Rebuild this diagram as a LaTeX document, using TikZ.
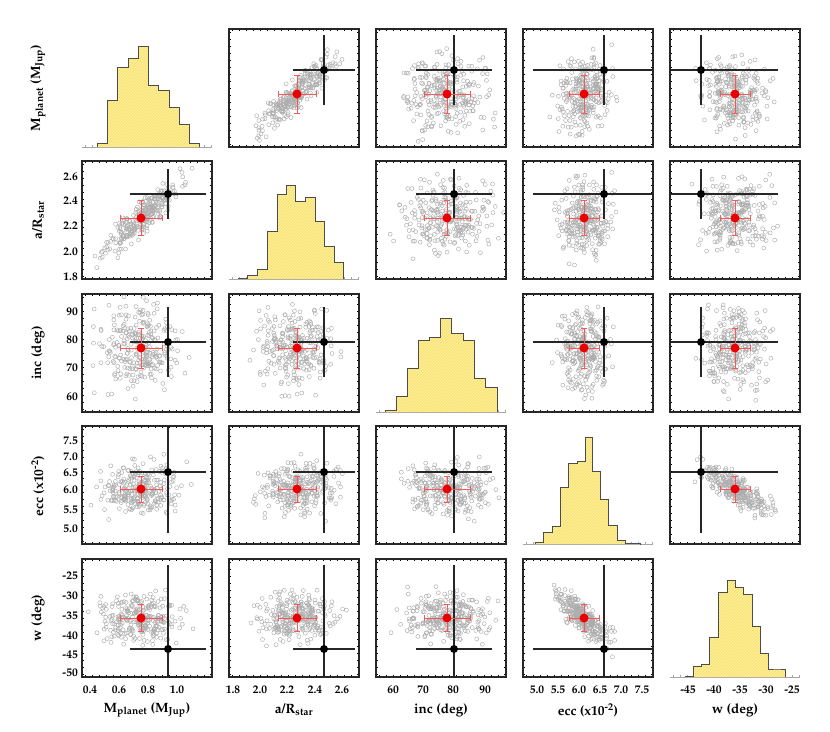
\documentclass[tikz,border=0pt]{standalone}
\usepackage[T1]{fontenc}
\usepackage{mathpazo}
\usetikzlibrary{patterns}
\definecolor{hy}{RGB}{250,228,110}
\definecolor{hl}{RGB}{253,243,190}
\definecolor{rd}{RGB}{235,0,0}
\definecolor{rb}{RGB}{245,90,90}
\tikzset{pt/.style={draw=gray!65,line width=0.45pt},
 histfill/.style={fill=hy,postaction={pattern=north east lines,pattern color=hl}},
 histline/.style={draw=gray!60!black,line width=0.8pt},
 frame/.style={draw=black!85,line width=1.2pt},
 blk/.style={draw=black!85,line width=1.6pt},
 redbar/.style={draw=rb,line width=0.6pt},
 lab/.style={font=\fontsize{11.5}{13}\selectfont\bfseries,inner sep=0pt},
 ttl/.style={font=\fontsize{13.5}{15}\selectfont\bfseries,inner sep=0pt}}
\newcommand\histo[4]{\path[histfill] (#2,#1) foreach \h/\r in {#4}{ |- (\r,{#1-\h}) } -- (#3,#1) -- cycle;
 \draw[histline] (#2,#1) foreach \h/\r in {#4}{ |- (\r,{#1-\h}) } -- (#3,#1);}
\begin{document}
\begin{tikzpicture}[x=1pt,y=-1pt]
\useasboundingbox (0,0) rectangle (830,731);
\def\CX{{82,229,376,523,670}}
\def\RB{{147,279,412,544,677}}
\def\XM{{59,68,71,61,65}}
\def\XS{{19,19,21,12.6,16}}
\def\XB{{86,95,78,81,31}}
\def\XR{{21,19,23,15,15}}
\def\XK{{38,31,38,71,77}}
\def\YM{{53,61,64,55,59}}
\def\YS{{18,18,20,12,12}}
\def\YB{{77,85,70,72,28}}
\def\YR{{19,17.5,20,13,13.5}}
\def\YK{{35,25,35,61,84}}
\pgfmathsetseed{7}
\foreach \i in {0,...,4}{\foreach \j in {0,...,4}{
 \pgfmathsetmacro\L{\CX[\j]}\pgfmathsetmacro\B{\RB[\i]}
 \ifnum\i=\j\relax
  \draw[gray!70,line width=0.6pt] (\L,\B) -- ++(130,0);
  \foreach \t in {3,10,...,129}{\draw[gray!70,line width=0.4pt] (\L+\t,\B) -- ++(0,-2);}
 \else
  \pgfmathsetmacro\xm{\XM[\j]}\pgfmathsetmacro\xs{\XS[\j]}
  \pgfmathsetmacro\xb{\XB[\j]}\pgfmathsetmacro\xr{\XR[\j]}\pgfmathsetmacro\xk{\XK[\j]}
  \pgfmathsetmacro\ym{\YM[\i]}\pgfmathsetmacro\ys{\YS[\i]}
  \pgfmathsetmacro\yb{\YB[\i]}\pgfmathsetmacro\yr{\YR[\i]}\pgfmathsetmacro\yk{\YK[\i]}
  \pgfmathsetmacro\rr{(\i+\j==1)*0.9+(\i+\j==7)*(-0.8)}
  \pgfmathsetmacro\qq{sqrt(1-\rr*\rr)}
  \begin{scope}
   \clip (\L,\B) rectangle ++(130,-118);
   \foreach \k in {1,...,280}{
     \pgfmathsetmacro\za{rand+rand+rand}
     \pgfmathsetmacro\zb{rand+rand+rand}
     \pgfmathsetmacro\px{\L+\xm+\xs*\za}
     \pgfmathsetmacro\py{\B-\ym-\ys*(\rr*\za+\qq*\zb)}
     \draw[pt] (\px,\py) circle (2);}
   \draw[blk] (\L+\xb-\xk,\B-\yb) -- (\L+\xb+\xk,\B-\yb);
   \draw[blk] (\L+\xb,\B-\yb-\yk) -- (\L+\xb,\B-\yb+\yk);
   \fill[black] (\L+\xb,\B-\yb) circle (4);
   \draw[redbar] (\L+\xm-\xr,\B-\ym) -- (\L+\xm+\xr,\B-\ym)
     (\L+\xm-\xr,\B-\ym-3) -- ++(0,6) (\L+\xm+\xr,\B-\ym-3) -- ++(0,6)
     (\L+\xm,\B-\ym-\yr) -- (\L+\xm,\B-\ym+\yr)
     (\L+\xm-3,\B-\ym-\yr) -- ++(6,0) (\L+\xm-3,\B-\ym+\yr) -- ++(6,0);
   \fill[rd] (\L+\xm,\B-\ym) circle (4.5);
  \end{scope}
  \foreach \t in {3,10,...,129}{\draw[line width=0.4pt] (\L+\t,\B) -- ++(0,-2) (\L+\t,\B-118) -- ++(0,2);}
  \foreach \t in {3,10,...,115}{\draw[line width=0.4pt] (\L,\B-\t) -- ++(2,0) (\L+130,\B-\t) -- ++(-2,0);}
  \draw[frame] (\L,\B) rectangle ++(130,-118);
 \fi}}
\histo{147}{97}{199}{4/107,47/117,80/128,89/138,101/148,62/158,57/169,40/179,23/189,4/199}
\histo{279}{238}{343}{1/247,4/257,10/267,48/277,85/286,94/295,78/305,82/315,58/324,33/334,17/343}
\histo{412}{385}{497}{2/396,16/407,44/418,72/429,75/440,94/451,79/463,72/474,34/485,25/497}
\histo{544}{535}{640}{2/543,12/552,18/560,57/568,81/577,83/585,107/592,73/600,45/608,19/617,4/625,1/632,0.5/640}
\histo{677}{685}{785}{1/693,11/701,13/709,40/718,85/727,97/735,90/743,83/752,51/760,24/768,8/777,8/785}
% y tick labels
\foreach \y/\t in {177/2.6,201/2.4,226/2.2,252/2.0,277/1.8,312/90,340/80,368/70,397/60,441/7.5,457/7.0,473/6.5,490/6.0,510/5.5,529/5.0,576/-25,596/-30,616/-35,636/-40,655/-45,673/-50}
 \node[lab,anchor=east] at (78,\y) {\t};
% x tick labels
\foreach \x/\t in {90/0.4,119/0.6,148/0.8,177/1.0,233/1.8,260/2.0,287/2.2,315/2.4,342/2.6,393/60,423/70,453/80,485/90,537/5.0,558/5.5,579/6.0,600/6.5,621/7.0,642/7.5,688/-45,714/-40,740/-35,766/-30,792/-25}
 \node[lab] at (\x,690) {\t};
% axis titles
\node[ttl,rotate=90] (t1) at (38,88) {M\textsubscript{planet} (M\textsubscript{Jup})};
\node[ttl,rotate=90] (t2) at (38,220) {a/R\textsubscript{star}};
\node[ttl,rotate=90] (t3) at (38,353) {inc (deg)};
\node[ttl,rotate=90] (t4) at (38,486) {ecc (x10\textsuperscript{-2})};
\node[ttl,rotate=90] (t5) at (38,618) {w (deg)};
\node[ttl] (b1) at (147,710) {M\textsubscript{planet} (M\textsubscript{Jup})};
\node[ttl] (b2) at (294,710) {a/R\textsubscript{star}};
\node[ttl] (b3) at (441,710) {inc (deg)};
\node[ttl] (b4) at (588,710) {ecc (x10\textsuperscript{-2})};
\node[ttl] (b5) at (735,710) {w (deg)};
\end{tikzpicture}
\end{document}
